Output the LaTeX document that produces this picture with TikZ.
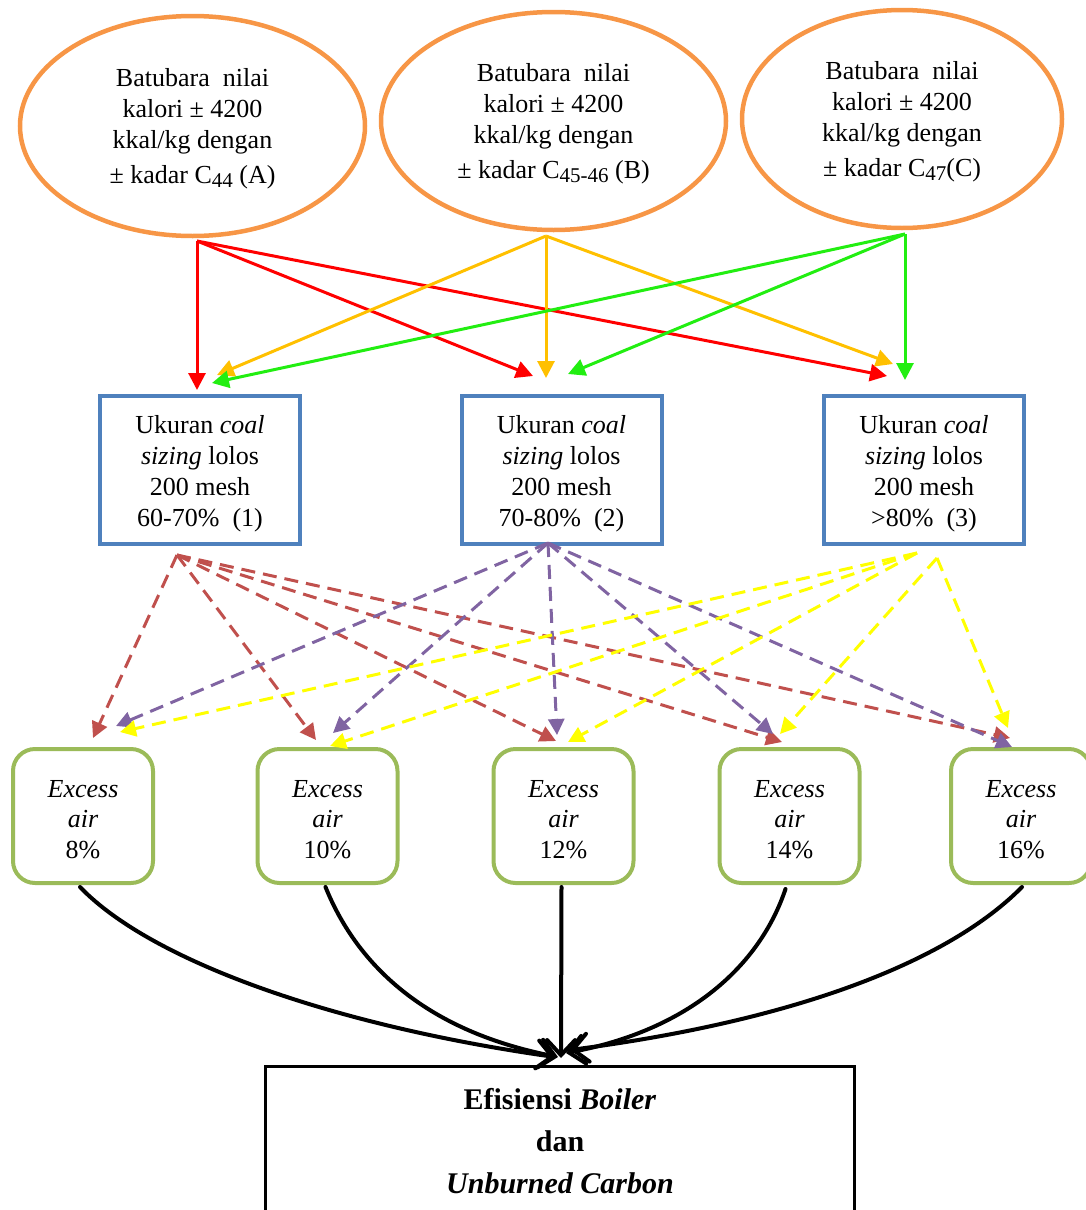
\documentclass[tikz,border=0pt]{standalone}
\usepackage{fontspec}
\setmainfont{Liberation Serif}
\usetikzlibrary{shapes.geometric,arrows.meta,calc}
\definecolor{ellcol}{HTML}{F79646}
\definecolor{boxblue}{HTML}{4F81BD}
\definecolor{airgreen}{HTML}{9BBB59}
\definecolor{cRed}{HTML}{FF0000}
\definecolor{cAmber}{HTML}{FFC000}
\definecolor{cGreen}{HTML}{22EE11}
\definecolor{dRed}{HTML}{C0504D}
\definecolor{dPurple}{HTML}{8064A2}
\definecolor{dYellow}{HTML}{FFFF00}
\newcommand\txtA{\fontsize{26}{31}\selectfont}
\newcommand\txtB{\fontsize{26}{30.5}\selectfont}
\newcommand\txtC{\fontsize{30}{42}\selectfont\bfseries}
\newcommand\sbs[1]{\raisebox{-0.15em}{\fontsize{21}{21}\selectfont #1}}
\newcommand\tstrut[1]{\rule{0pt}{#1}}
\begin{document}
\begin{tikzpicture}[x=1pt,y=-1pt,
  ell/.style={draw=ellcol, line width=4.5pt, ellipse, inner sep=0pt, align=center, font=\txtA},
  sizebox/.style={draw=boxblue, line width=4pt, rectangle, minimum width=200pt, minimum height=148pt, inner sep=0pt, align=center, font=\txtA},
  airbox/.style={draw=airgreen, line width=4pt, rectangle, rounded corners=22pt, minimum width=140pt, minimum height=134pt, inner sep=0pt, align=center, font=\txtB},
  resbox/.style={draw=black, line width=3pt, rectangle, minimum width=589pt, minimum height=150pt, inner sep=0pt, align=center, font=\txtC},
  solidarr/.style={line width=3pt, -{Triangle[length=17pt,width=17pt]}},
  dasharr/.style={line width=3pt, dash pattern=on 14pt off 8pt, -{Triangle[length=16pt,width=16pt]}},
  curvearr/.style={line width=4pt, line cap=round, -{Straight Barb[length=15pt,width=28pt,line cap=round]}}
]
\useasboundingbox (0,0) rectangle (1085,1210);

% top ellipses
\node[ell, minimum width=345pt, minimum height=220pt] (A) at (192.5,126)
  {\tstrut{24pt}Batubara\ \ nilai\\kalori ± 4200\\kkal/kg dengan\\[4pt]± kadar C\sbs{44} (A)};
\node[ell, minimum width=345pt, minimum height=218pt] (B) at (553.5,121)
  {\tstrut{24pt}Batubara\ \ nilai\\kalori ± 4200\\kkal/kg dengan\\[4pt]± kadar C\sbs{45-46} (B)};
\node[ell, minimum width=320pt, minimum height=218pt] (C) at (902,119)
  {\tstrut{24pt}Batubara\ \ nilai\\kalori ± 4200\\kkal/kg dengan\\[4pt]± kadar C\sbs{47}(C)};

% coal sizing boxes
\node[sizebox] (S1) at (200,470) {\tstrut{26pt}Ukuran \textit{coal}\\\textit{sizing} lolos\\200 mesh\\60-70\%\ \ (1)};
\node[sizebox] (S2) at (561.5,470) {\tstrut{26pt}Ukuran \textit{coal}\\\textit{sizing} lolos\\200 mesh\\70-80\%\ \ (2)};
\node[sizebox] (S3) at (924,470) {\tstrut{26pt}Ukuran \textit{coal}\\\textit{sizing} lolos\\200 mesh\\>80\%\ \ (3)};

% excess air boxes
\node[airbox] (E1) at (83,816) {\tstrut{24pt}\textit{Excess}\\\textit{air}\\8\%};
\node[airbox] (E2) at (327.5,816) {\tstrut{24pt}\textit{Excess}\\\textit{air}\\10\%};
\node[airbox] (E3) at (563.5,816) {\tstrut{24pt}\textit{Excess}\\\textit{air}\\12\%};
\node[airbox] (E4) at (789.5,816) {\tstrut{24pt}\textit{Excess}\\\textit{air}\\14\%};
\node[airbox] (E5) at (1021,816) {\tstrut{24pt}\textit{Excess}\\\textit{air}\\16\%};

% result box
\node[resbox] (R) at (560,1141.5) {Efisiensi \textit{Boiler}\\dan\\\textit{Unburned Carbon}};

% coordinates for arrow ends
\coordinate (sA) at (197,241);
\coordinate (sB) at (546,236);
\coordinate (sC) at (905,234);
\coordinate (tA1) at (197,390);
\coordinate (tA2) at (533,376);
\coordinate (tA3) at (887,376);
\coordinate (tB1) at (217,375);
\coordinate (tB2) at (546,378);
\coordinate (tB3) at (893,364);
\coordinate (tC1) at (212,383);
\coordinate (tC2) at (568,374);
\coordinate (tC3) at (905,380);

\coordinate (d1) at (177,555);
\coordinate (d2) at (548,543);
\coordinate (d3) at (917,553);
\coordinate (d4) at (937,558);
\coordinate (r1) at (93,738);
\coordinate (r2) at (316,740);
\coordinate (r3) at (556,741);
\coordinate (r4) at (782,742);
\coordinate (r5) at (1010,738);
\coordinate (p1) at (116,726);
\coordinate (p2) at (333,733);
\coordinate (p3) at (557,735);
\coordinate (p4) at (773,734);
\coordinate (p5) at (1012,747);
\coordinate (y1) at (120,732);
\coordinate (y2) at (330,746);
\coordinate (y3) at (568,742);
\coordinate (y4) at (780,734);
\coordinate (y5) at (1008,728);

% solid coloured arrows
\draw[solidarr, cRed] (sA) -- (tA1);
\draw[solidarr, cRed] (sA) -- (tA2);
\draw[solidarr, cRed] (sA) -- (tA3);
\draw[solidarr, cAmber] (sB) -- (tB1);
\draw[solidarr, cAmber] (sB) -- (tB2);
\draw[solidarr, cAmber] (sB) -- (tB3);
\draw[solidarr, cGreen] (sC) -- (tC1);
\draw[solidarr, cGreen] (sC) -- (tC2);
\draw[solidarr, cGreen] (sC) -- (tC3);

% dashed arrows
\foreach \t in {r1,r2,r3,r4,r5} \draw[dasharr, dRed] (d1) -- (\t);
\foreach \t in {p1,p2,p3,p4,p5} \draw[dasharr, dPurple] (d2) -- (\t);
\foreach \t in {y1,y2,y3} \draw[dasharr, dYellow] (d3) -- (\t);
\foreach \t in {y4,y5} \draw[dasharr, dYellow] (d4) -- (\t);

% black curved arrows
\coordinate (k1) at (555,1057);
\coordinate (k2) at (558,1057);
\coordinate (k3) at (561,1058);
\coordinate (k4) at (566,1053);
\coordinate (k5) at (570,1050);
\draw[curvearr] (E1.south) ++(-3,2) .. controls (150,960) and (330,1025) .. (k1);
\draw[curvearr] (E2.south) ++(-2,2) .. controls (355,960) and (420,1030) .. (k2);
\draw[curvearr] (E3.south) ++(-2,2) -- (k3);
\draw[curvearr] (E4.south) ++(-4,4) .. controls (760,965) and (690,1030) .. (k4);
\draw[curvearr] (E5.south) ++(1,2) .. controls (950,960) and (800,1020) .. (k5);
\end{tikzpicture}
\end{document}
